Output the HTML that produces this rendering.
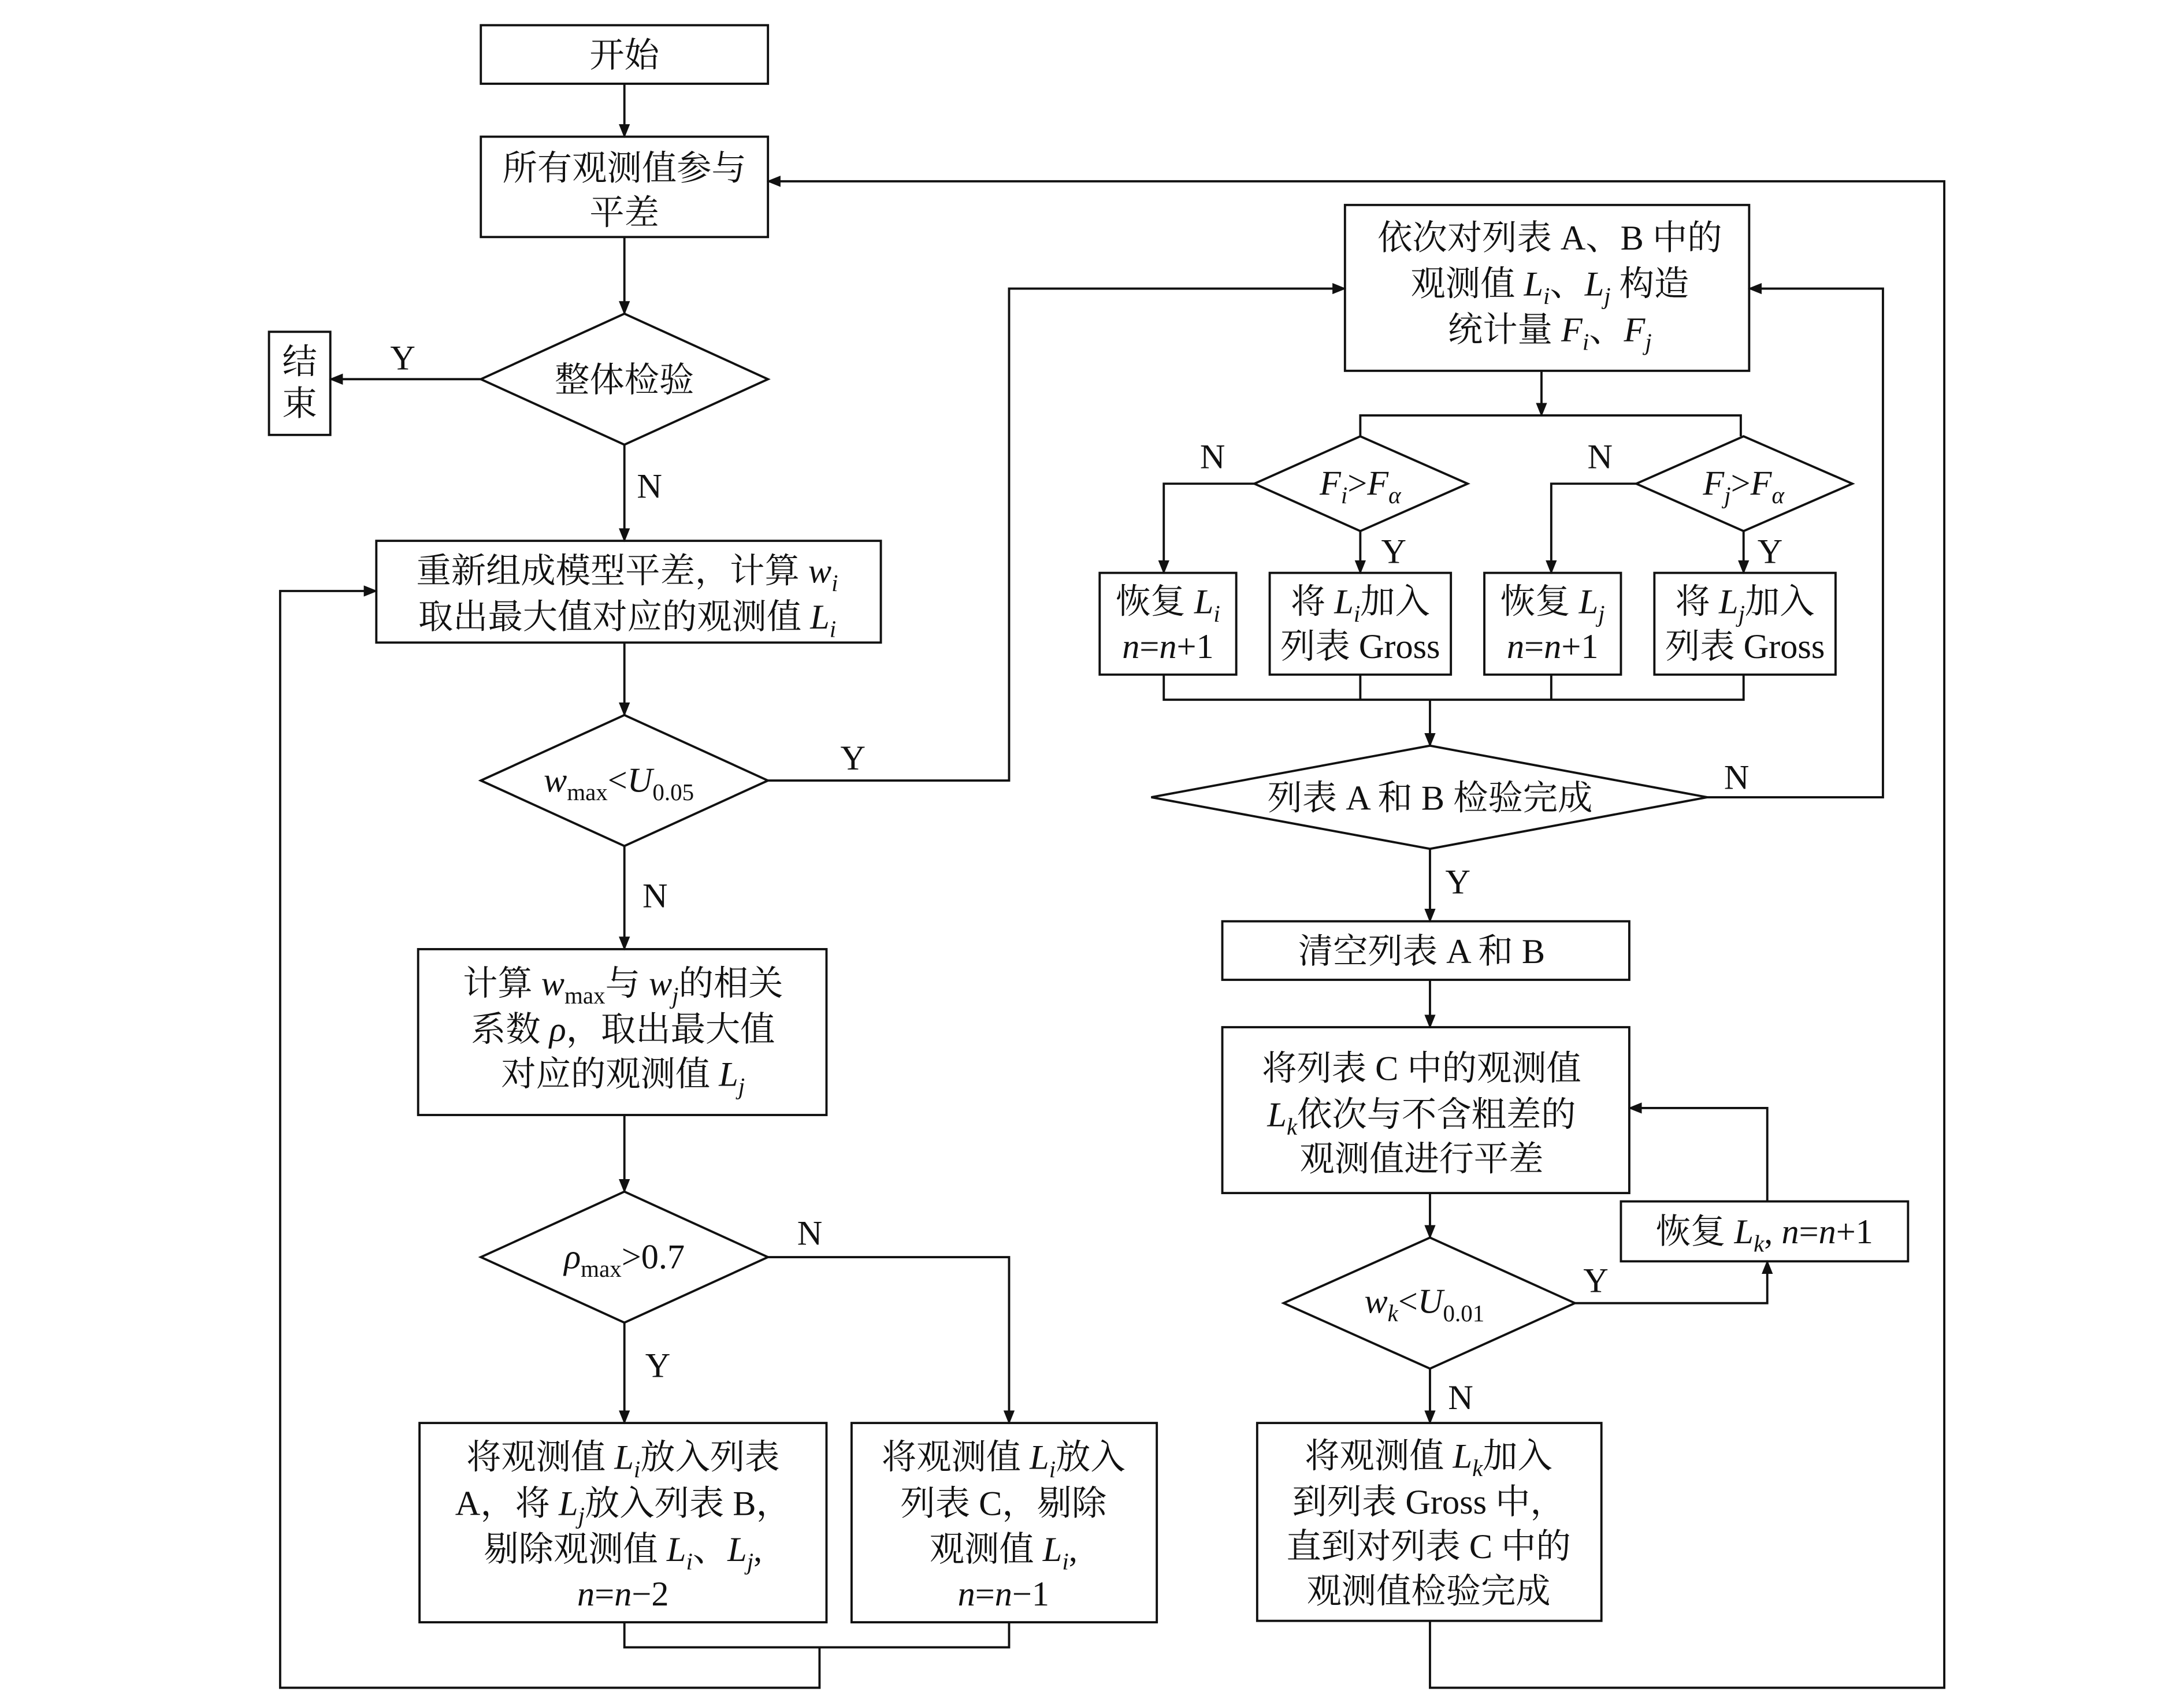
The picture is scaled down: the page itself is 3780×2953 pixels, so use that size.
<!DOCTYPE html>
<html><head><meta charset="utf-8"><style>
html,body{margin:0;padding:0;background:#fff;}
svg{display:block;}
text{font-family:"Liberation Serif","Noto Serif CJK SC",serif;font-size:25px;fill:#111;}
.i{font-style:italic;}
.s{font-size:17px;}
</style></head><body>
<svg width="3780" height="2953" viewBox="0 0 1567 1224" xmlns="http://www.w3.org/2000/svg">
<defs><marker id="a" markerWidth="10" markerHeight="8" refX="9" refY="4" orient="auto" markerUnits="userSpaceOnUse"><path d="M0,0 L10,4 L0,8 z" fill="#111"/></marker></defs>
<g fill="none" stroke="#111" stroke-width="1.6">
<rect x="345" y="18" width="206" height="42"/>
<rect x="345" y="98" width="206" height="72"/>
<polygon points="345,272 448,225 551,272 448,319"/>
<rect x="193" y="238" width="44" height="74"/>
<rect x="270" y="388" width="362" height="73"/>
<polygon points="345,560 448,513 551,560 448,607"/>
<rect x="300" y="681" width="293" height="119"/>
<polygon points="345,902 448,855 551,902 448,949"/>
<rect x="301" y="1021" width="292" height="143"/>
<rect x="611" y="1021" width="219" height="143"/>
<rect x="965" y="147" width="290" height="119"/>
<polygon points="900,347 976,313 1053,347 976,381"/>
<polygon points="1174,347 1251,313 1329,347 1251,381"/>
<rect x="789" y="411" width="98" height="73"/>
<rect x="911" y="411" width="130" height="73"/>
<rect x="1065" y="411" width="98" height="73"/>
<rect x="1187" y="411" width="130" height="73"/>
<polygon points="826,572 1026,535 1225,572 1026,609"/>
<rect x="877" y="661" width="292" height="42"/>
<rect x="877" y="737" width="292" height="119"/>
<polygon points="921,935 1026,888 1130,935 1026,982"/>
<rect x="1163" y="862" width="206" height="43"/>
<rect x="902" y="1021" width="247" height="142"/>
<path d="M448,60V98" marker-end="url(#a)"/>
<path d="M448,170V225" marker-end="url(#a)"/>
<path d="M345,272H237" marker-end="url(#a)"/>
<path d="M448,319V388" marker-end="url(#a)"/>
<path d="M448,461V513" marker-end="url(#a)"/>
<path d="M551,560H724V207H965" marker-end="url(#a)"/>
<path d="M448,607V681" marker-end="url(#a)"/>
<path d="M448,800V855" marker-end="url(#a)"/>
<path d="M551,902H724V1021" marker-end="url(#a)"/>
<path d="M448,949V1021" marker-end="url(#a)"/>
<path d="M448,1164V1182H724V1164"/>
<path d="M588,1182V1211H201V424H270" marker-end="url(#a)"/>
<path d="M1106,266V298" marker-end="url(#a)"/>
<path d="M976,313V298H1249V313"/>
<path d="M900,347H835V411" marker-end="url(#a)"/>
<path d="M976,381V411" marker-end="url(#a)"/>
<path d="M1174,347H1113V411" marker-end="url(#a)"/>
<path d="M1251,381V411" marker-end="url(#a)"/>
<path d="M835,484V502H1251V484M976,484V502M1113,484V502"/>
<path d="M1026,502V535" marker-end="url(#a)"/>
<path d="M1225,572H1351V207H1255" marker-end="url(#a)"/>
<path d="M1026,609V661" marker-end="url(#a)"/>
<path d="M1026,703V737" marker-end="url(#a)"/>
<path d="M1026,856V888" marker-end="url(#a)"/>
<path d="M1130,935H1268V905" marker-end="url(#a)"/>
<path d="M1268,862V795H1169" marker-end="url(#a)"/>
<path d="M1026,982V1021" marker-end="url(#a)"/>
<path d="M1026,1163V1211H1395V130H551" marker-end="url(#a)"/>
</g>
<g text-anchor="middle">
<text x="448" y="48">开始</text>
<text x="448" y="129">所有观测值参与</text>
<text x="448" y="161">平差</text>
<text x="448" y="281">整体检验</text>
<text x="215" y="268">结</text>
<text x="215" y="298">束</text>
<text x="289" y="265">Y</text>
<text x="466" y="357">N</text>
<text x="450" y="418">重新组成模型平差，计算 <tspan class="i">w</tspan><tspan class="i s" dy="6">i</tspan></text>
<text x="450" y="451">取出最大值对应的观测值 <tspan class="i">L</tspan><tspan class="i s" dy="6">i</tspan></text>
<text x="444" y="568"><tspan class="i">w</tspan><tspan class="s" dy="6">max</tspan><tspan dy="-6">&lt;</tspan><tspan class="i">U</tspan><tspan class="s" dy="6">0.05</tspan></text>
<text x="612" y="552">Y</text>
<text x="470" y="651">N</text>
<text x="447" y="714">计算 <tspan class="i">w</tspan><tspan class="s" dy="6">max</tspan><tspan dy="-6">与 </tspan><tspan class="i">w</tspan><tspan class="i s" dy="6">j</tspan><tspan dy="-6">的相关</tspan></text>
<text x="447" y="747">系数 <tspan class="i">ρ</tspan>，取出最大值</text>
<text x="447" y="779">对应的观测值 <tspan class="i">L</tspan><tspan class="i s" dy="6">j</tspan></text>
<text x="448" y="910"><tspan class="i">ρ</tspan><tspan class="s" dy="6">max</tspan><tspan dy="-6">&gt;0.7</tspan></text>
<text x="581" y="893">N</text>
<text x="472" y="988">Y</text>
<text x="447" y="1054">将观测值 <tspan class="i">L</tspan><tspan class="i s" dy="6">i</tspan><tspan dy="-6">放入列表</tspan></text>
<text x="447" y="1087">A，将 <tspan class="i">L</tspan><tspan class="i s" dy="6">j</tspan><tspan dy="-6">放入列表 B，</tspan></text>
<text x="447" y="1120">剔除观测值 <tspan class="i">L</tspan><tspan class="i s" dy="6">i</tspan><tspan dy="-6">、</tspan><tspan class="i">L</tspan><tspan class="i s" dy="6">j</tspan><tspan dy="-6">,</tspan></text>
<text x="447" y="1152"><tspan class="i">n</tspan>=<tspan class="i">n</tspan>−2</text>
<text x="720" y="1054">将观测值 <tspan class="i">L</tspan><tspan class="i s" dy="6">i</tspan><tspan dy="-6">放入</tspan></text>
<text x="720" y="1087">列表 C，剔除</text>
<text x="720" y="1120">观测值 <tspan class="i">L</tspan><tspan class="i s" dy="6">i</tspan><tspan dy="-6">,</tspan></text>
<text x="720" y="1152"><tspan class="i">n</tspan>=<tspan class="i">n</tspan>−1</text>
<text x="1112" y="179">依次对列表 A、B 中的</text>
<text x="1112" y="212">观测值 <tspan class="i">L</tspan><tspan class="i s" dy="6">i</tspan><tspan dy="-6">、</tspan><tspan class="i">L</tspan><tspan class="i s" dy="6">j</tspan><tspan dy="-6"> 构造</tspan></text>
<text x="1112" y="245">统计量 <tspan class="i">F</tspan><tspan class="i s" dy="6">i</tspan><tspan dy="-6">、</tspan><tspan class="i">F</tspan><tspan class="i s" dy="6">j</tspan></text>
<text x="976" y="355"><tspan class="i">F</tspan><tspan class="i s" dy="6">i</tspan><tspan dy="-6">&gt;</tspan><tspan class="i">F</tspan><tspan class="i s" dy="6">α</tspan></text>
<text x="1251" y="355"><tspan class="i">F</tspan><tspan class="i s" dy="6">j</tspan><tspan dy="-6">&gt;</tspan><tspan class="i">F</tspan><tspan class="i s" dy="6">α</tspan></text>
<text x="870" y="336">N</text>
<text x="1000" y="404">Y</text>
<text x="1148" y="336">N</text>
<text x="1270" y="404">Y</text>
<text x="838" y="440">恢复 <tspan class="i">L</tspan><tspan class="i s" dy="6">i</tspan></text>
<text x="838" y="472"><tspan class="i">n</tspan>=<tspan class="i">n</tspan>+1</text>
<text x="976" y="440">将 <tspan class="i">L</tspan><tspan class="i s" dy="6">i</tspan><tspan dy="-6">加入</tspan></text>
<text x="976" y="472">列表 Gross</text>
<text x="1114" y="440">恢复 <tspan class="i">L</tspan><tspan class="i s" dy="6">j</tspan></text>
<text x="1114" y="472"><tspan class="i">n</tspan>=<tspan class="i">n</tspan>+1</text>
<text x="1252" y="440">将 <tspan class="i">L</tspan><tspan class="i s" dy="6">j</tspan><tspan dy="-6">加入</tspan></text>
<text x="1252" y="472">列表 Gross</text>
<text x="1026" y="581">列表 A 和 B 检验完成</text>
<text x="1246" y="566">N</text>
<text x="1046" y="641">Y</text>
<text x="1020" y="691">清空列表 A 和 B</text>
<text x="1020" y="775">将列表 C 中的观测值</text>
<text x="1020" y="808"><tspan class="i">L</tspan><tspan class="i s" dy="6">k</tspan><tspan dy="-6">依次与不含粗差的</tspan></text>
<text x="1020" y="840">观测值进行平差</text>
<text x="1266" y="892">恢复 <tspan class="i">L</tspan><tspan class="i s" dy="6">k</tspan><tspan dy="-6">, </tspan><tspan class="i">n</tspan>=<tspan class="i">n</tspan>+1</text>
<text x="1022" y="942"><tspan class="i">w</tspan><tspan class="i s" dy="6">k</tspan><tspan dy="-6">&lt;</tspan><tspan class="i">U</tspan><tspan class="s" dy="6">0.01</tspan></text>
<text x="1145" y="927">Y</text>
<text x="1048" y="1011">N</text>
<text x="1025" y="1053">将观测值 <tspan class="i">L</tspan><tspan class="i s" dy="6">k</tspan><tspan dy="-6">加入</tspan></text>
<text x="1025" y="1086">到列表 Gross 中，</text>
<text x="1025" y="1118">直到对列表 C 中的</text>
<text x="1025" y="1150">观测值检验完成</text>
</g>
</svg>
</body></html>
